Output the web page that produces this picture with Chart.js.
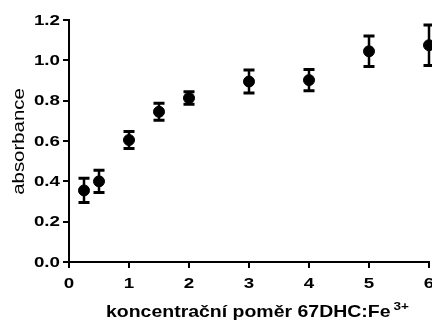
<!DOCTYPE html>
<html>
<head>
<meta charset="utf-8">
<script src="https://cdn.jsdelivr.net/npm/chart.js@4.4.1/dist/chart.umd.min.js"></script>
<style>
  html, body { margin: 0; padding: 0; background: #fff; }
  #wrap { width: 432px; height: 322px; position: relative; }
</style>
</head>
<body>
<div id="wrap"><canvas id="chart"></canvas></div>
<script>
// measured values (ratio 67DHC:Fe3+ vs absorbance)
const ratios = [0.25, 0.5, 1, 1.5, 2, 3, 4, 5, 6];
const absorbance = [0.355, 0.40, 0.605, 0.745, 0.813, 0.895, 0.902, 1.045, 1.075];
const errors = [0.06, 0.055, 0.042, 0.042, 0.031, 0.057, 0.053, 0.076, 0.10];
const xTicks = [0, 1, 2, 3, 4, 5, 6];
const yTicks = [0, 0.2, 0.4, 0.6, 0.8, 1.0, 1.2];
const yTitle = 'absorbance';
const xTitle = 'koncentrační poměr 67DHC:Fe';
const xTitleSup = '3+';

const FONT = '"Liberation Sans", Arial, sans-serif';

function stretchedText(ctx, text, x, y, font, align, baseline, sx, rot) {
    ctx.save();
    ctx.translate(x, y);
    if (rot) ctx.rotate(rot);
    ctx.scale(sx, 1);
    ctx.font = font;
    ctx.textAlign = align;
    ctx.textBaseline = baseline;
    ctx.fillStyle = '#000';
    ctx.fillText(text, 0, 0);
    ctx.restore();
}

const errorBars = {
    id: 'errorBars',
    beforeDatasetsDraw(chart) {
        const ctx = chart.ctx;
        const xs = chart.scales.x, ys = chart.scales.y;
        ctx.save();
        ctx.strokeStyle = '#000';
        ratios.forEach((r, i) => {
            const px = xs.getPixelForValue(r);
            const top = ys.getPixelForValue(absorbance[i] + errors[i]);
            const bot = ys.getPixelForValue(absorbance[i] - errors[i]);
            ctx.lineWidth = 2.5;
            ctx.beginPath();
            ctx.moveTo(px, top);
            ctx.lineTo(px, bot);
            ctx.stroke();
            ctx.lineWidth = 3;
            ctx.beginPath();
            ctx.moveTo(px - 5.5, top);
            ctx.lineTo(px + 5.5, top);
            ctx.moveTo(px - 5.5, bot);
            ctx.lineTo(px + 5.5, bot);
            ctx.stroke();
        });
        ctx.restore();
    }
};

const axisText = {
    id: 'axisText',
    afterDraw(chart) {
        const ctx = chart.ctx;
        const xs = chart.scales.x, ys = chart.scales.y;
        const tickFont = 'bold 15px ' + FONT;
        yTicks.forEach(v => {
            stretchedText(ctx, v.toFixed(1), 60, ys.getPixelForValue(v) + 0.5, tickFont, 'right', 'middle', 1.25);
        });
        xTicks.forEach(v => {
            stretchedText(ctx, String(v), xs.getPixelForValue(v), 284, tickFont, 'center', 'middle', 1.25);
        });

        stretchedText(ctx, yTitle, 24, 141.5, '17px ' + FONT, 'center', 'alphabetic', 1.2, -Math.PI / 2);

        const mainFont = 'bold 16.5px ' + FONT;
        const supFont = 'bold 11.5px ' + FONT;
        const sx = 1.18;
        ctx.save();
        ctx.font = mainFont;
        const wMain = ctx.measureText(xTitle).width * sx;
        ctx.font = supFont;
        const wSup = ctx.measureText(xTitleSup).width * sx;
        ctx.restore();
        const gap = 3;
        const left = 257.5 - (wMain + gap + wSup) / 2;
        stretchedText(ctx, xTitle, left, 317, mainFont, 'left', 'alphabetic', sx);
        stretchedText(ctx, xTitleSup, left + wMain + gap, 310, supFont, 'left', 'alphabetic', sx);
    }
};

const ctx = document.getElementById('chart').getContext('2d');
new Chart(ctx, {
    type: 'scatter',
    data: {
        datasets: [{
            data: ratios.map((r, i) => ({ x: r, y: absorbance[i] })),
            backgroundColor: '#000',
            borderColor: '#000',
            pointRadius: 5.5,
            pointHoverRadius: 5.5,
            showLine: false,
            clip: false
        }]
    },
    options: {
        responsive: true,
        maintainAspectRatio: false,
        animation: false,
        events: [],
        layout: { autoPadding: false, padding: { top: 20, right: 3, left: 0, bottom: 0 } },
        plugins: {
            legend: { display: false },
            tooltip: { enabled: false }
        },
        scales: {
            x: {
                type: 'linear',
                min: 0,
                max: 6,
                afterBuildTicks: s => { s.ticks = xTicks.map(v => ({ value: v })); },
                afterFit: s => { s.height = 60; },
                ticks: { display: false },
                grid: { drawOnChartArea: false, drawTicks: true, tickLength: 6, color: '#000', lineWidth: 2 },
                border: { color: '#000', width: 2 }
            },
            y: {
                type: 'linear',
                min: 0,
                max: 1.2,
                afterBuildTicks: s => { s.ticks = yTicks.map(v => ({ value: v })); },
                afterFit: s => { s.width = 69; },
                ticks: { display: false },
                grid: { drawOnChartArea: false, drawTicks: true, tickLength: 6, color: '#000', lineWidth: 2 },
                border: { color: '#000', width: 2 }
            }
        }
    },
    plugins: [errorBars, axisText]
});
</script>
</body>
</html>
